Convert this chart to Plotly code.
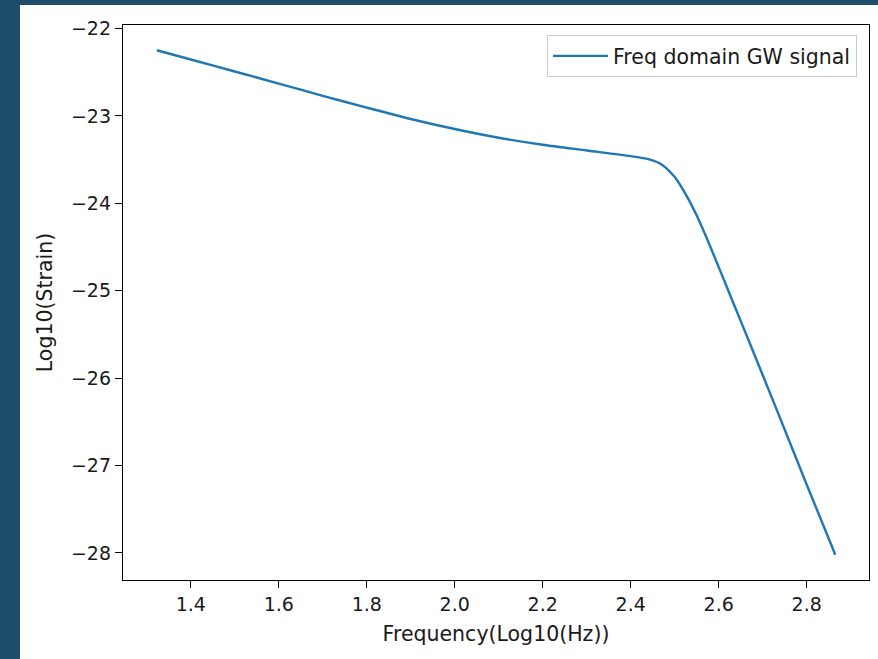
import plotly.graph_objects as go

# Data
freq_log10 = [1.323, 1.40, 1.50, 1.60, 1.70, 1.80, 1.90, 2.00, 2.10, 2.20, 2.30, 2.40,
              2.44, 2.47, 2.50, 2.527, 2.55, 2.575, 2.60, 2.63, 2.669, 2.735, 2.801, 2.865]
strain_log10 = [-22.249, -22.355, -22.492, -22.630, -22.770, -22.905, -23.035, -23.150,
                -23.250, -23.330, -23.395, -23.460, -23.495, -23.555, -23.700, -23.915,
                -24.140, -24.425, -24.730, -25.100, -25.580, -26.400, -27.230, -28.020]
series_name = "Freq domain GW signal"
x_title = "Frequency(Log10(Hz))"
y_title = "Log10(Strain)"
x_ticks = [1.4, 1.6, 1.8, 2.0, 2.2, 2.4, 2.6, 2.8]
y_ticks = [-22, -23, -24, -25, -26, -27, -28]

FONT = "DejaVu Sans"
TXT = "#1a1a1a"
W, H = 878, 659
L, R, T, B = 123, 9, 25, 79
pw, ph = W - L - R, H - T - B

fig = go.Figure()
fig.add_trace(go.Scatter(
    x=freq_log10, y=strain_log10, mode="lines", name=series_name,
    line=dict(color="#1f77b4", width=2.4, shape="spline", smoothing=0.8),
))

# white figure area over dark page background
fig.add_shape(type="rect", xref="paper", yref="paper", layer="below",
              x0=(20 - L) / pw, x1=(W - L) / pw + 0.01,
              y0=-(H - T - ph) / ph - 0.01, y1=(ph + T - 5) / ph,
              fillcolor="white", line=dict(width=0))

axis_common = dict(
    showgrid=False, zeroline=False, showline=True, mirror=True,
    linecolor="black", linewidth=1.3, ticks="outside", ticklen=7,
    tickwidth=1.3, tickcolor="black",
    tickfont=dict(family=FONT, size=19, color=TXT),
)

fig.update_xaxes(range=[1.246, 2.9416], tickvals=x_ticks, tickformat=".1f",
                 title=dict(text=x_title, font=dict(family=FONT, size=20.5, color=TXT),
                            standoff=12),
                 **axis_common)
fig.update_yaxes(range=[-28.309, -21.96], tickvals=y_ticks,
                 title=dict(text=y_title, font=dict(family=FONT, size=20.5, color=TXT),
                            standoff=12),
                 **axis_common)

fig.update_layout(
    width=W, height=H,
    margin=dict(l=L, r=R, t=T, b=B),
    paper_bgcolor="#1f4e6d", plot_bgcolor="white",
    showlegend=True,
    legend=dict(x=(857 - L) / pw, y=(ph + T - 35) / ph, xanchor="right", yanchor="top",
                bgcolor="white", bordercolor="#cccccc", borderwidth=1,
                itemwidth=55,
                font=dict(family=FONT, size=20.5, color=TXT)),
)

fig.write_html("out.html", config={"displayModeBar": False},
               post_script="document.body.style.margin='0';document.body.style.overflow='hidden';")
